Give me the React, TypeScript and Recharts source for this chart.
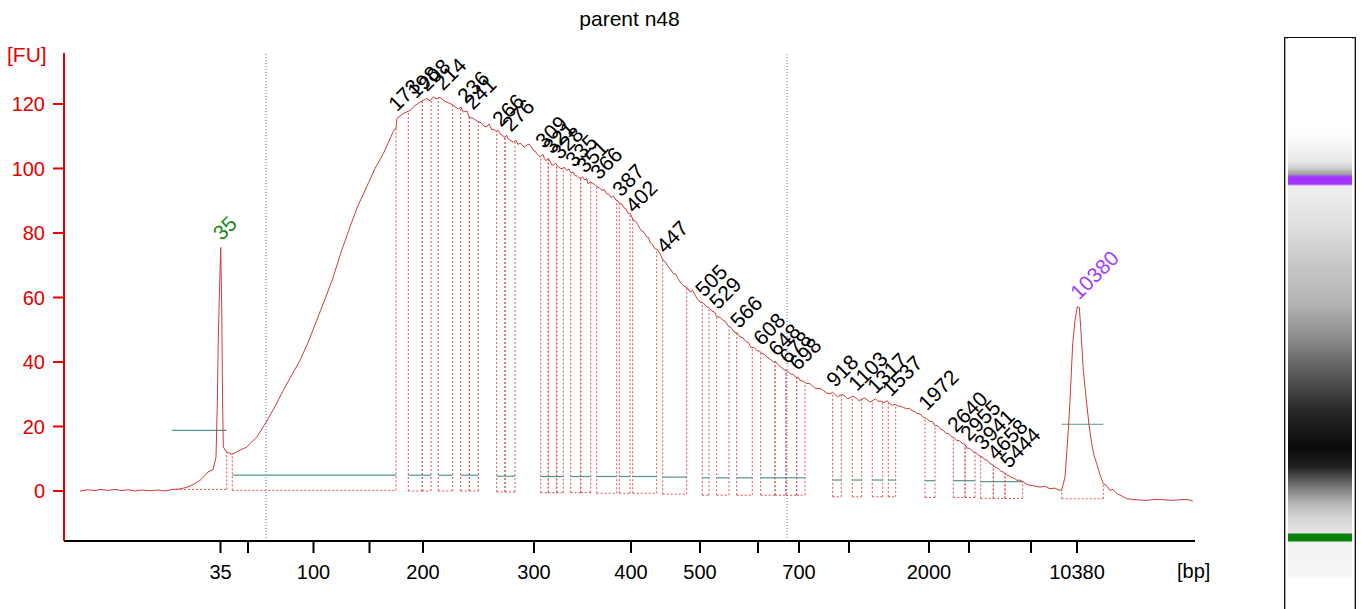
import { ComposedChart, Line, Scatter, XAxis, YAxis, ReferenceLine } from 'recharts';

// migration time (s) vs fluorescence (FU)
const trace: [number, number][] = [
  [1.6, 0], [2.4, 0.4], [3.1, 0.1], [3.6, 0.5], [4.4, 0.2], [5.1, 0.5], [5.8, 0.1], [6.4, 0.4],
  [7.1, 0], [7.8, 0.3], [8.6, 0.1], [9.4, 0.3], [10.1, 0], [10.9, 0.5], [11.6, 0.6], [12.3, 1.2],
  [12.9, 2], [13.6, 3.3], [14.1, 4.8], [14.4, 5.9], [14.9, 6.6], [15.2, 10.5], [15.33, 27], [15.43, 47.7],
  [15.6, 68], [15.67, 75.5], [15.77, 58], [15.85, 30], [15.93, 13.6], [16.27, 12.1], [16.77, 11.4],
  [17.27, 12.1], [17.7, 12.8], [18.27, 13.6], [18.7, 15], [19.27, 16.7], [19.7, 18.8], [20.27, 21.6],
  [20.7, 24], [21.27, 27.2], [21.93, 31.2], [22.6, 35], [23.6, 40.5], [24.4, 46], [25.27, 52.9],
  [26.1, 59.5], [26.93, 66.4], [27.7, 74], [28.6, 81.9], [29.4, 88.5], [30.27, 94.3], [31.1, 100],
  [31.93, 104.6], [32.5, 108.5], [32.93, 111.5], [33.2, 112.5], [33.3, 115.5], [33.9, 117], [34.6, 118],
  [35.1, 119.5], [35.6, 120.6], [36.27, 121.7], [36.6, 121], [36.93, 122.2], [37.2, 121.6], [37.6, 122],
  [38.1, 120.8], [38.5, 120.3], [38.93, 119.6], [39.4, 118.4], [39.7, 119], [39.93, 117.5], [40.3, 117.8],
  [40.5, 116], [40.93, 115.5], [41.4, 114.5], [41.7, 114.2], [42.0, 113.1], [42.27, 112.9], [42.5, 113.8],
  [42.8, 111.9], [43.0, 112.2], [43.2, 111.4], [43.4, 111.9], [43.6, 110.8], [43.85, 110.2], [44.1, 109.6],
  [44.25, 110.3], [44.4, 109.2], [44.7, 108.6], [44.93, 108.2], [45.2, 108.7], [45.4, 107.4], [45.6, 107.9],
  [45.8, 107.3], [46.0, 106.6], [46.27, 107.2], [46.5, 107.6], [46.7, 106.9], [46.9, 105.8], [47.1, 105.4],
  [47.35, 104.3], [47.6, 103.6], [47.9, 104.4], [48.05, 103], [48.2, 102.4], [48.4, 103.1], [48.6, 102.3],
  [48.75, 101.2], [48.93, 101], [49.15, 101.7], [49.4, 100.6], [49.6, 100.1], [49.8, 99.9], [50.0, 100.4],
  [50.27, 99.4], [50.5, 99.8], [50.7, 98.6], [50.9, 98.9], [51.1, 97.8], [51.35, 97.6], [51.6, 96.9],
  [51.85, 97.4], [52.1, 96.4], [52.25, 96.9], [52.4, 95.3], [52.65, 95.8], [52.93, 95.3], [53.1, 95.0],
  [53.3, 94.3], [53.55, 94.0], [53.8, 93.1], [54.0, 93.6], [54.27, 92.2], [54.5, 92.0], [54.7, 91],
  [54.95, 91.4], [55.2, 90.2], [55.4, 89.9], [55.6, 89.1], [55.8, 88.9], [56.0, 87.8], [56.2, 87.4],
  [56.4, 86.1], [56.65, 85.9], [56.93, 83.9], [57.15, 83.6], [57.4, 82.5], [57.6, 81.3], [57.8, 80.6],
  [58.0, 80.2], [58.27, 78.8], [58.45, 78.6], [58.6, 77.1], [58.85, 76.3], [59.1, 75.1], [59.35, 74.8],
  [59.6, 73.6], [59.93, 71.5], [60.15, 71.0], [60.4, 69.5], [60.65, 68.8], [60.93, 67.4], [61.15, 67.3],
  [61.4, 65.9], [61.7, 64.4], [62.0, 63.5], [62.3, 63.1], [62.6, 61.7], [62.85, 62.2], [63.1, 60.8],
  [63.35, 59.5], [63.6, 58.6], [63.9, 58.4], [64.27, 57.1], [64.5, 56.9], [64.8, 55.8], [65.05, 55.5],
  [65.27, 54.1], [65.6, 53.8], [65.93, 52.9], [66.15, 52.6], [66.4, 51.2], [66.7, 50.7], [67.0, 49.3],
  [67.3, 49.0], [67.6, 47.8], [67.9, 47.5], [68.2, 46.3], [68.45, 46.0], [68.7, 44.5], [69.0, 44.5],
  [69.27, 43.6], [69.55, 43.3], [69.8, 42.7], [70.05, 42.4], [70.3, 41.5], [70.6, 40.9], [70.93, 40],
  [71.15, 40.2], [71.4, 39.2], [71.7, 38.4], [72.0, 37.6], [72.3, 37.4], [72.6, 36.4], [72.9, 36.1],
  [73.2, 35.2], [73.4, 35.3], [73.6, 34.3], [73.95, 34.0], [74.27, 33.3], [74.55, 33.4], [74.8, 32.7],
  [75.05, 32.0], [75.3, 31.8], [75.6, 31.8], [75.93, 31.2], [76.3, 30.3], [76.6, 30.1], [76.85, 30.6],
  [77.1, 29.9], [77.35, 29.2], [77.6, 29.7], [77.85, 29.9], [78.1, 29.4], [78.35, 28.6], [78.6, 28.9],
  [78.9, 29.4], [79.27, 28.7], [79.5, 28.0], [79.8, 28.5], [80.05, 28.9], [80.3, 28.3], [80.6, 27.6],
  [80.93, 28.1], [81.15, 28.6], [81.4, 27.8], [81.7, 27.9], [82.0, 27.4], [82.3, 28.0], [82.6, 27.1],
  [82.85, 26.5], [83.1, 26.9], [83.35, 26.4], [83.6, 26.3], [83.95, 25.9], [84.27, 25.5], [84.55, 25.6],
  [84.8, 24.9], [85.05, 24.7], [85.3, 24.1], [85.6, 23.9], [85.93, 22.9], [86.25, 22.5], [86.6, 21.6],
  [86.85, 21.5], [87.1, 20.2], [87.35, 20.3], [87.6, 19.3], [87.9, 18.9], [88.2, 17.9], [88.45, 17.8],
  [88.7, 16.9], [89.0, 16.5], [89.27, 15.7], [89.55, 15.6], [89.8, 14.8], [90.05, 14.6], [90.3, 13.3],
  [90.6, 13.2], [90.93, 12.1], [91.2, 11.9], [91.5, 11], [91.8, 10.6], [92.1, 9.7], [92.35, 9.5],
  [92.6, 8.5], [92.85, 8.2], [93.1, 7.4], [93.4, 7.0], [93.7, 6.1], [94.0, 5.8], [94.27, 4.9],
  [94.55, 4.7], [94.8, 4.1], [95.05, 3.9], [95.3, 3.3], [95.6, 3.4], [95.93, 2.8], [96.4, 1.9],
  [97.0, 1.6], [97.6, 1.2], [98.1, 1.5], [98.6, 0.7], [99.1, 0.9], [99.4, 0.4], [99.77, 0.2],
  [100.1, 4.3], [100.43, 18.8], [100.6, 28.1], [100.87, 45.7], [101.1, 52.9], [101.33, 57.1],
  [101.53, 56.9], [101.67, 50.9], [101.93, 37.4], [102.27, 27.1], [102.5, 20.5], [102.77, 14.7],
  [103.0, 11], [103.27, 8.5], [103.6, 5], [103.93, 2.3], [104.2, 1.8], [104.6, 0.2], [104.9, 0.5],
  [105.27, -0.8], [105.7, -1.4], [106.27, -2.4], [107.1, -2.7], [108.27, -2.9], [109.1, -2.6],
  [109.93, -2.7], [110.8, -2.9], [111.6, -2.7], [112.3, -2.6], [112.87, -3.1],
];

// size ladder ticks (time -> bp)
const xTicks = [15.65, 18.4, 24.95, 30.55, 35.9, 47.0, 56.7, 63.6, 69.4, 73.5, 78.5, 86.5, 90.5, 96.7, 101.3];
const xTickLabels = ['35', '', '100', '', '200', '300', '400', '500', '', '700', '', '2000', '', '', '10380'];
const yTicks = [0, 20, 40, 60, 80, 100, 120];

// called peaks: [size bp, apex time, apex FU]
const peaks: [number, number, number][] = [
  [35, 15.67, 75.5], [173, 33.2, 115.5], [198, 35.1, 119.5], [208, 36.2, 121.7], [214, 37.8, 122],
  [236, 40.1, 118], [241, 40.8, 116], [266, 43.6, 110.8], [276, 44.6, 109.2], [309, 47.9, 104],
  [321, 48.7, 102.3], [328, 49.5, 100.6], [335, 50.9, 98.2], [351, 52.0, 96.4], [366, 53.4, 94.3],
  [387, 55.6, 89.1], [402, 56.9, 84], [447, 60.0, 71.5], [505, 63.9, 58], [529, 65.3, 54.1],
  [566, 67.4, 48.3], [608, 69.7, 42.9], [648, 71.2, 39.6], [678, 72.3, 37.2], [698, 73.3, 35.2],
  [918, 77.0, 30], [1103, 79.2, 28.8], [1317, 81.1, 28], [1537, 82.6, 27.1], [1972, 86.2, 22.8],
  [2640, 89.1, 16], [2955, 90.4, 13.3], [3941, 91.8, 10.5], [4658, 93.1, 7.4], [5444, 94.4, 4.9],
  [10380, 101.4, 57.1],
];

// peak windows: [start time, end time, width line FU, baseline FU]
const windows: [number, number, number, number][] = [
  [10.8, 16.27, 18.8, 0.5], [16.83, 33.2, 4.9, 0.2], [34.43, 35.83, 4.9, 0], [35.83, 36.7, 4.9, 0],
  [37.43, 38.87, 4.9, 0], [39.67, 40.53, 4.9, 0], [40.53, 41.43, 4.9, 0], [43.27, 44.1, 4.6, -0.3],
  [44.1, 45.1, 4.6, -0.3], [47.67, 48.43, 4.5, -0.5], [48.43, 49.27, 4.5, -0.5], [49.27, 49.93, 4.5, -0.5],
  [50.67, 51.67, 4.5, -0.5], [51.67, 52.67, 4.5, -0.5], [53.27, 55.27, 4.5, -0.7], [55.53, 56.6, 4.5, -0.7],
  [56.87, 59.27, 4.5, -0.7], [59.87, 62.27, 4.3, -1], [63.83, 64.5, 4.1, -1.3], [65.27, 66.5, 4.1, -1.3],
  [67.27, 68.83, 4.1, -1.3], [69.67, 71.1, 4.1, -1.3], [71.1, 72.2, 4.1, -1.3], [72.2, 73.27, 4.1, -1.3],
  [73.27, 74.1, 4.1, -1.3], [76.87, 77.73, 3.4, -1.8], [78.83, 79.77, 3.4, -1.8], [80.83, 81.87, 3.4, -1.8],
  [82.43, 83.17, 3.4, -1.8], [86.1, 87.1, 3.2, -2], [88.93, 90.1, 3.2, -2], [90.1, 91.1, 3.2, -2],
  [91.67, 92.93, 2.9, -2.3], [92.93, 94.1, 2.9, -2.3], [94.1, 95.87, 2.9, -2.3], [99.77, 103.93, 20.7, -2.4],
];

// region of interest markers
const regionMarks = [20.2, 72.3];

const RED = '#e50000';
const TRACE = '#cc3b3b';
const DASH = '#e05050';
const WIDTH_LINE = '#4f9a8a';

const traceData = trace.map(([t, fu]) => ({ t, fu }));

const traceAt = (t: number) => {
  for (let i = 1; i < trace.length; i++) {
    const [t1, v1] = trace[i];
    if (t1 >= t) {
      const [t0, v0] = trace[i - 1];
      return v0 + ((v1 - v0) * (t - t0)) / (t1 - t0);
    }
  }
  return trace[trace.length - 1][1];
};

const peakData = peaks.map(([bp, t, fu], i) => ({
  t,
  fu,
  bp,
  color: i === 0 ? '#1a8a1a' : i === peaks.length - 1 ? '#a040ff' : '#000',
}));

const PeakLabel = (props: any) => {
  const { cx, cy, payload } = props;
  const x = cx + 1;
  const y = cy - 6;
  return (
    <text x={x} y={y} transform={`rotate(-45 ${x} ${y})`} fontSize={21} fill={payload.color}>
      {payload.bp}
    </text>
  );
};

const gel = [
  '#fff 0px', '#fff 94px', '#fbfbfb 101px', '#eaeaea 122px', '#cfcfcf 130px', '#a0a0a0 136px',
  '#a033ff 139px', '#a033ff 146px', '#f0f0f0 148px', '#dcdcdc 192px', '#c6c6c6 228px', '#b4b4b4 265px',
  '#8a8a8a 301px', '#575757 337px', '#262626 374px', '#0a0a0a 410px', '#1e1e1e 428px', '#6f6f6f 447px',
  '#b5b5b5 465px', '#d8d8d8 482px', '#e6e6e6 495px', '#0a820a 496px', '#0a820a 503px', '#f2f2f2 504px',
  '#f6f6f6 537px', '#fff 542px',
].join(', ');

export default function App() {
  const xLabel = (v: number) => xTickLabels[xTicks.indexOf(v)] ?? '';

  return (
    <div
      style={{
        position: 'absolute',
        left: 0,
        top: 0,
        width: 1361,
        height: 609,
        background: '#fff',
        overflow: 'hidden',
        fontFamily: '"Liberation Sans", Arial, sans-serif',
      }}
    >
      <div style={{ position: 'absolute', left: 64, width: 1131, top: 8, textAlign: 'center', fontSize: 21, lineHeight: '21px', color: '#000' }}>
        parent n48
      </div>
      <div style={{ position: 'absolute', left: 7, top: 44, fontSize: 21, lineHeight: '21px', color: RED }}>[FU]</div>
      <div style={{ position: 'absolute', left: 1177, top: 561, fontSize: 20, lineHeight: '20px', color: '#000' }}>[bp]</div>

      <ComposedChart width={1361} height={609} margin={{ top: 53, right: 166, bottom: 0, left: 0 }} data={traceData}>
        <XAxis
          type="number"
          dataKey="t"
          domain={[0, 113.1]}
          allowDataOverflow
          ticks={xTicks}
          interval={0}
          tickFormatter={xLabel}
          height={68}
          tickSize={12}
          tickMargin={12}
          axisLine={{ stroke: '#000', strokeWidth: 2 }}
          tickLine={{ stroke: '#000', strokeWidth: 2 }}
          tick={{ fill: '#000', fontSize: 20 }}
        />
        <YAxis
          type="number"
          domain={[-15.5, 135.8]}
          allowDataOverflow
          ticks={yTicks}
          interval={0}
          width={64}
          tickSize={11}
          tickMargin={8}
          axisLine={{ stroke: RED, strokeWidth: 2 }}
          tickLine={{ stroke: RED, strokeWidth: 2 }}
          tick={{ fill: RED, fontSize: 20 }}
        />
        {regionMarks.map((x) => (
          <ReferenceLine key={`r${x}`} x={x} stroke="#6a6ac0" strokeDasharray="1 2" ifOverflow="visible" />
        ))}
        {windows.map(([a, b, lvl, base], i) => [
          <ReferenceLine key={`a${i}`} segment={[{ x: a, y: base }, { x: a, y: traceAt(a) }]} stroke={DASH} strokeDasharray="2 2" ifOverflow="visible" />,
          <ReferenceLine key={`b${i}`} segment={[{ x: b, y: base }, { x: b, y: traceAt(b) }]} stroke={DASH} strokeDasharray="2 2" ifOverflow="visible" />,
          <ReferenceLine key={`c${i}`} segment={[{ x: a, y: base }, { x: b, y: base }]} stroke={DASH} strokeDasharray="2 2" ifOverflow="visible" />,
          <ReferenceLine key={`d${i}`} segment={[{ x: a, y: lvl }, { x: b, y: lvl }]} stroke={WIDTH_LINE} strokeWidth={1.2} ifOverflow="visible" />,
        ])}
        <Line type="linear" dataKey="fu" stroke={TRACE} strokeWidth={1} dot={false} activeDot={false} isAnimationActive={false} />
        <Scatter data={peakData} dataKey="fu" shape={PeakLabel} isAnimationActive={false} />
      </ComposedChart>

      <div
        style={{
          position: 'absolute',
          left: 1284,
          top: 37,
          width: 72,
          height: 600,
          boxSizing: 'border-box',
          border: '1px solid #111',
          boxShadow: 'inset 0 0 0 1px #aaa',
          background: '#fff',
        }}
      >
        <div style={{ position: 'absolute', left: 3, top: 0, width: 64, height: 598, background: `linear-gradient(to bottom, ${gel})` }} />
      </div>
    </div>
  );
}
